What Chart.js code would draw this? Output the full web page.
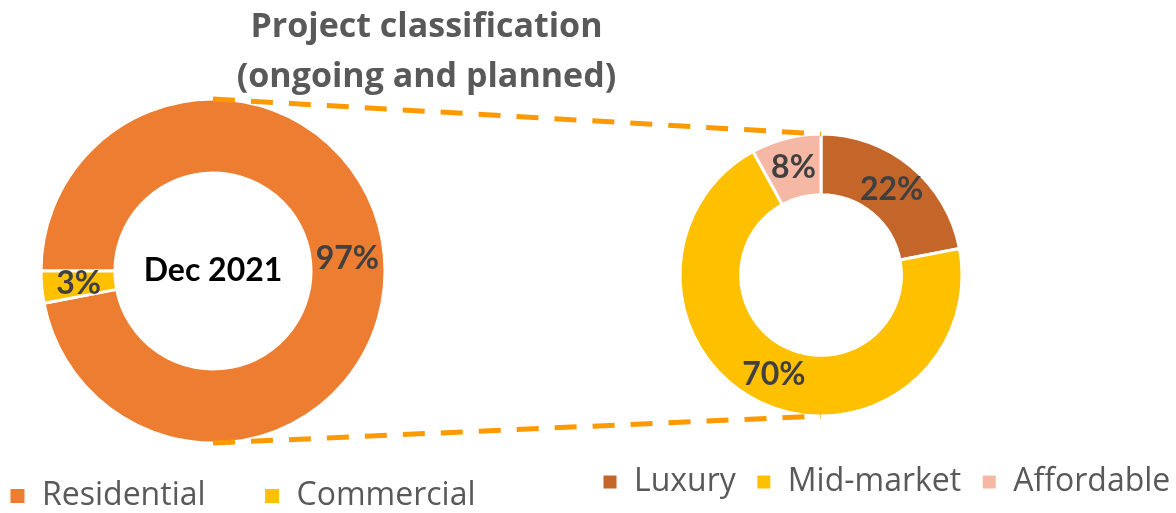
<!DOCTYPE html>
<html>
<head>
<meta charset="utf-8">
<script src="https://cdn.jsdelivr.net/npm/chart.js@4/dist/chart.umd.min.js"></script>
<style>
  html, body { margin: 0; padding: 0; background: #fff; overflow: hidden; }
  #wrap { position: relative; width: 1176px; height: 513px; }
  #wrap canvas { position: absolute; left: 0; top: 0; }
</style>
</head>
<body>
<div id="wrap">
  <canvas id="typeChart" width="1176" height="513"></canvas>
  <canvas id="segmentChart" width="1176" height="513"></canvas>
</div>
<script>
// data
const titleLines = ["Project classification", "(ongoing and planned)"];
const centerLabel = "Dec 2021";

const typeLabels = ["Residential", "Commercial"];
const typeShares = [97, 3];
const typeColors = ["#ED7D31", "#FFC000"];

const segmentLabels = ["Luxury", "Mid-market", "Affordable"];
const segmentShares = [22, 70, 8];
const segmentColors = ["#C4652A", "#FFC000", "#F4B8A4"];

const TEXT_FONT = "'Open Sans', 'Noto Sans', sans-serif";
const NUM_FONT = "Lato, 'Noto Sans', sans-serif";

// put the ring where it sits in the picture (legend/title keep their own boxes)
const placeRing = {
    id: "placeRing",
    afterLayout(chart, args, opts) {
        const a = chart.chartArea;
        const half = 200;
        a.left = opts.x - half; a.right = opts.x + half;
        a.top = opts.y - half; a.bottom = opts.y + half;
        a.width = a.height = half * 2;
    }
};

// percentage labels on the slices, plus optional text in the hole
const sliceLabels = {
    id: "sliceLabels",
    afterDatasetsDraw(chart, args, opts) {
        const ctx = chart.ctx;
        const meta = chart.getDatasetMeta(0);
        const values = chart.data.datasets[0].data;
        ctx.save();
        ctx.textAlign = "center";
        ctx.textBaseline = "middle";
        ctx.font = "bold 32px " + NUM_FONT;
        ctx.fillStyle = "#404040";
        meta.data.forEach((arc, i) => {
            const p = arc.tooltipPosition();
            ctx.fillText(values[i] + "%", p.x, p.y);
        });
        if (opts.center) {
            const arc = meta.data[0];
            ctx.fillStyle = "#000";
            ctx.fillText(opts.center, arc.x, arc.y);
        }
        ctx.restore();
    }
};

let typeChart;

// dashed lines joining the top and bottom of both rings
const connectors = {
    id: "connectors",
    afterDraw(chart) {
        if (!typeChart) return;
        const a = typeChart.getDatasetMeta(0).data[0];
        const b = chart.getDatasetMeta(0).data[0];
        const ctx = chart.ctx;
        ctx.save();
        ctx.strokeStyle = "#FF9900";
        ctx.lineWidth = 5;
        ctx.setLineDash([22, 16]);
        ctx.beginPath();
        ctx.moveTo(a.x, a.y - a.outerRadius);
        ctx.lineTo(b.x, b.y - b.outerRadius);
        ctx.moveTo(a.x, a.y + a.outerRadius);
        ctx.lineTo(b.x, b.y + b.outerRadius);
        ctx.stroke();
        ctx.restore();
    }
};

Chart.defaults.font.family = TEXT_FONT;
Chart.defaults.color = "#595959";

typeChart = new Chart(document.getElementById("typeChart"), {
    type: "doughnut",
    data: {
        labels: typeLabels,
        datasets: [{
            data: typeShares,
            backgroundColor: typeColors,
            borderColor: "#fff",
            borderWidth: 3,
        }],
    },
    options: {
        responsive: false,
        animation: false,
        rotation: 270,
        radius: 172,
        cutout: "57%",
        layout: { padding: { left: -49, right: 274, top: 2, bottom: -9 } },
        plugins: {
            tooltip: { enabled: false },
            title: {
                display: true,
                text: titleLines,
                color: "#595959",
                font: { size: 34, weight: "bold", lineHeight: 1.47 },
                padding: 0,
            },
            legend: {
                position: "bottom",
                align: "start",
                labels: {
                    boxWidth: 17,
                    boxHeight: 17,
                    padding: 58,
                    color: "#595959",
                    font: { size: 32 },
                },
            },
            placeRing: { x: 213, y: 271 },
            sliceLabels: { center: centerLabel },
        },
    },
    plugins: [placeRing, sliceLabels],
});

const segmentChart = new Chart(document.getElementById("segmentChart"), {
    type: "doughnut",
    data: {
        labels: segmentLabels,
        datasets: [{
            data: segmentShares,
            backgroundColor: segmentColors,
            borderColor: "#fff",
            borderWidth: 3,
        }],
    },
    options: {
        responsive: false,
        animation: false,
        rotation: 0,
        radius: 141,
        cutout: "57%",
        layout: { padding: { left: 582, right: -60, top: 0, bottom: 5 } },
        plugins: {
            tooltip: { enabled: false },
            legend: {
                position: "bottom",
                align: "start",
                labels: {
                    boxWidth: 16,
                    boxHeight: 16,
                    padding: 20,
                    color: "#595959",
                    font: { size: 32 },
                },
            },
            placeRing: { x: 821, y: 275 },
            sliceLabels: {},
        },
    },
    plugins: [placeRing, sliceLabels, connectors],
});
</script>
</body>
</html>
